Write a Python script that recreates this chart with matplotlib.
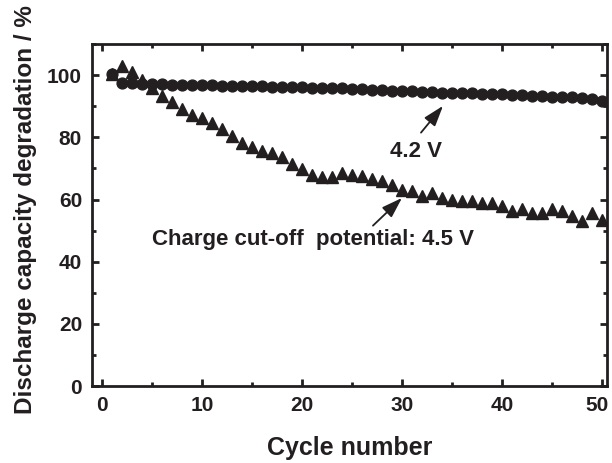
import matplotlib
matplotlib.use("Agg")
from matplotlib import pyplot as plt
from matplotlib.ticker import MultipleLocator
from matplotlib.transforms import ScaledTranslation

plt.rcParams['font.family'] = ['Liberation Sans', 'DejaVu Sans']
plt.rcParams['font.weight'] = 'bold'

ciclos = list(range(1, 51))

# 4.2 V
cap_42 = [100.3, 97.4, 97.3, 97.2, 97.1, 97.0, 96.9, 96.9, 96.8, 96.7,
          96.7, 96.6, 96.6, 96.5, 96.5, 96.4, 96.3, 96.3, 96.2, 96.1,
          96.0, 95.9, 95.8, 95.7, 95.5, 95.4, 95.3, 95.1, 95.0, 94.9,
          94.8, 94.6, 94.5, 94.4, 94.3, 94.2, 94.1, 94.0, 93.9, 93.8,
          93.6, 93.5, 93.4, 93.3, 93.1, 93.0, 92.8, 92.6, 92.4, 91.8]

# 4.5 V
cap_45 = [100.3, 103.0, 101.0, 98.5, 96.0, 93.3, 91.2, 89.0, 87.1, 86.3,
          84.7, 82.6, 80.4, 78.3, 77.0, 75.6, 75.0, 73.8, 71.3, 69.7,
          68.0, 67.3, 67.3, 68.6, 68.0, 67.5, 66.5, 65.9, 64.8, 63.2,
          62.6, 61.1, 62.2, 60.5, 60.0, 59.5, 59.5, 59.0, 59.0, 57.8,
          56.2, 56.8, 55.7, 55.7, 56.8, 56.2, 54.6, 53.0, 55.7, 53.5]

negro = '#231f20'

fig = plt.figure(figsize=(6.12, 4.63), dpi=100)
ax = fig.add_axes([0.150, 0.166, 0.842, 0.739])

ax.plot(ciclos, cap_42, 'o', color=negro, markersize=7.8, linestyle='none')
ax.plot(ciclos, cap_45, '^', color=negro, markersize=8.2, linestyle='none')

ax.set_xlim(-1, 50.5)
ax.set_ylim(0, 110)
ax.xaxis.set_major_locator(MultipleLocator(10))
ax.xaxis.set_minor_locator(MultipleLocator(5))
ax.yaxis.set_major_locator(MultipleLocator(20))
ax.yaxis.set_minor_locator(MultipleLocator(10))
ax.tick_params(which='both', direction='in', top=True, right=True,
               width=2, color=negro, labelsize=15, labelcolor=negro)
ax.tick_params(which='major', length=5, pad=7)
ax.tick_params(which='minor', length=3)
for s in ax.spines.values():
    s.set_linewidth(2)
    s.set_color(negro)

ax.set_xlabel('Cycle number', fontsize=18, fontweight='bold', color=negro, labelpad=15)
ax.set_ylabel('Discharge capacity degradation / %', fontsize=17.5, fontweight='bold',
              color=negro)
ax.yaxis.set_label_coords(-0.106, 0.515)

flecha = dict(arrowstyle='-|>,head_length=0.9,head_width=0.3', color=negro, lw=1.3,
              mutation_scale=14, shrinkA=0, shrinkB=0)
ax.text(31.4, 75.5, '4.2 V', fontsize=16, fontweight='bold', color=negro,
        ha='center', va='center')
ax.annotate('', xy=(34.1, 90.1), xytext=(31.9, 81.5), arrowprops=flecha)
ax.text(5.0, 47.1, 'Charge cut-off  potential: 4.5 V', fontsize=16, fontweight='bold',
        color=negro, ha='left', va='center')
ax.annotate('', xy=(30.0, 60.5), xytext=(27.1, 51.6), arrowprops=flecha)

# el "50" va un poco a la izquierda para que no se corte
fig.canvas.draw()
for lab in ax.get_xticklabels():
    if lab.get_text() == '50':
        lab.set_transform(lab.get_transform() + ScaledTranslation(-4 / 72, 0, fig.dpi_scale_trans))

plt.savefig('out.png', dpi=100)
